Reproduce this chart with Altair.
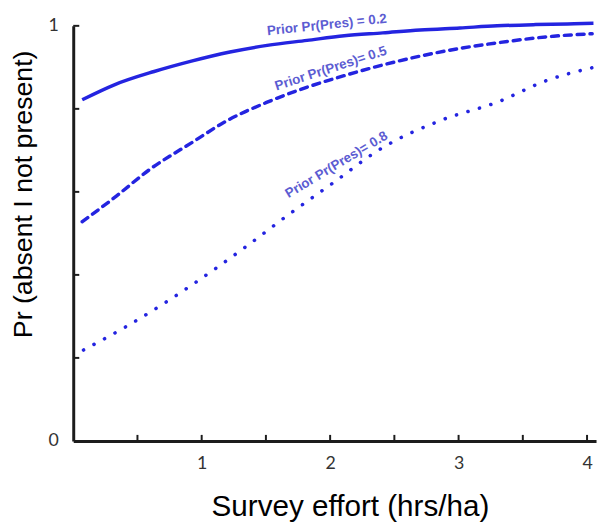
import altair as alt
import pandas as pd

# ---- data ----
effort_02 = [0.07, 0.32, 0.63, 0.92, 1.22, 1.51, 1.82, 2.11, 2.41, 2.70, 3.01, 3.30, 3.60, 3.90, 4.05]
pr_02 = [0.822, 0.858, 0.890, 0.915, 0.937, 0.953, 0.965, 0.976, 0.983, 0.990, 0.995, 1.000, 1.003, 1.005, 1.006]

effort_05 = [0.07, 0.32, 0.60, 0.92, 1.20, 1.51, 1.80, 2.11, 2.40, 2.70, 3.00, 3.30, 3.74, 4.04]
pr_05 = [0.528, 0.586, 0.655, 0.718, 0.772, 0.816, 0.850, 0.880, 0.905, 0.927, 0.945, 0.959, 0.975, 0.981]

effort_08 = [0.08, 0.415, 0.75, 0.915, 1.34, 1.68, 2.02, 2.40, 2.86, 3.30, 3.70, 4.04]
pr_08 = [0.219, 0.276, 0.340, 0.374, 0.467, 0.546, 0.621, 0.705, 0.772, 0.816, 0.870, 0.899]

label_texts = ["Prior Pr(Pres) = 0.2", "Prior Pr(Pres)= 0.5", "Prior Pr(Pres)= 0.8"]
label_x = [1.975, 2.005, 2.050]
label_y = [1.002, 0.897, 0.665]
label_angle = [354, 342, 329]

x_tick_values = [0.5, 1.0, 1.5, 2.0, 2.5, 3.0, 3.5, 4.0]
x_label_values = [1, 2, 3, 4]
y_tick_values = [0.2, 0.4, 0.6, 0.8, 1.0]
y_label_values = [0, 1]

X_MAX = 4.07
LINE_COLOR = "#2424e0"
LABEL_COLOR = "#5c5cd2"

lines = pd.DataFrame({
    "effort": effort_02 + effort_05 + effort_08,
    "pr": pr_02 + pr_05 + pr_08,
    "prior": ["0.2"] * len(effort_02) + ["0.5"] * len(effort_05) + ["0.8"] * len(effort_08),
})
labels = pd.DataFrame({"effort": label_x, "pr": label_y, "text": label_texts, "angle": label_angle})
xticks = pd.DataFrame({"effort": x_tick_values, "pr": [0.0] * len(x_tick_values),
                       "pr2": [0.0145] * len(x_tick_values)})
yticks = pd.DataFrame({"pr": y_tick_values, "effort": [0.0] * len(y_tick_values),
                       "effort2": [0.047] * len(y_tick_values)})

x_scale = alt.Scale(domain=[0, X_MAX], nice=False, zero=False)
y_scale = alt.Scale(domain=[0, 1], nice=False, zero=False)

x_axis = alt.Axis(
    values=x_label_values, format="d", tickSize=0, labelPadding=14,
    labelFont="Lato", labelFontSize=18, labelColor="#333333",
    domainColor="#1c1c1c", domainWidth=3, grid=False,
    title="Survey effort (hrs/ha)", titleFont="Liberation Sans", titleFontSize=30,
    titleFontWeight="normal", titleColor="#000000",
    titleX=280, titleY=75, titleAlign="center", titleBaseline="alphabetic",
)
y_axis = alt.Axis(
    values=y_label_values, format="d", tickSize=0, labelPadding=15,
    labelFont="Lato", labelFontSize=18, labelColor="#333333",
    domainColor="#1c1c1c", domainWidth=3, grid=False,
    title="Pr (absent I not present)", titleFont="Liberation Sans", titleFontSize=27,
    titleFontWeight="normal", titleColor="#000000",
    titleX=-50, titleY=170, titleAngle=270, titleAlign="center", titleBaseline="middle",
)

X = alt.X("effort:Q", scale=x_scale, axis=x_axis)
Y = alt.Y("pr:Q", scale=y_scale, axis=y_axis)

base = alt.Chart(lines).encode(x=X, y=Y)

solid = base.transform_filter(alt.datum.prior == "0.2").mark_line(
    color=LINE_COLOR, strokeWidth=3.5, interpolate="monotone")
dashed = base.transform_filter(alt.datum.prior == "0.5").mark_line(
    color=LINE_COLOR, strokeWidth=3.5, strokeDash=[7, 6], strokeCap="round", interpolate="monotone")
dotted = base.transform_filter(alt.datum.prior == "0.8").mark_line(
    color=LINE_COLOR, strokeWidth=3.6, strokeDash=[0.1, 12], strokeCap="round", interpolate="monotone")

text = alt.Chart(labels).mark_text(
    font="Liberation Sans", fontSize=13.5, fontWeight="bold", color=LABEL_COLOR,
    align="center", baseline="middle",
).encode(
    x=X, y=Y,
    text="text:N",
    angle=alt.Angle("angle:Q", scale=None),
)

xtick_rules = alt.Chart(xticks).mark_rule(color="#1c1c1c", strokeWidth=2).encode(
    x=X, y=Y, y2="pr2:Q",
)
ytick_rules = alt.Chart(yticks).mark_rule(color="#1c1c1c", strokeWidth=2).encode(
    x=X, x2="effort2:Q", y=Y,
)

chart = alt.layer(solid, dashed, dotted, xtick_rules, ytick_rules, text).properties(
    width=529, height=420,
    autosize=alt.AutoSizeParams(type="none"),
    padding={"left": 66, "top": 15, "right": 3, "bottom": 80},
).configure_view(stroke=None)

chart.save("out.html", embed_options={"renderer": "svg", "actions": False})
